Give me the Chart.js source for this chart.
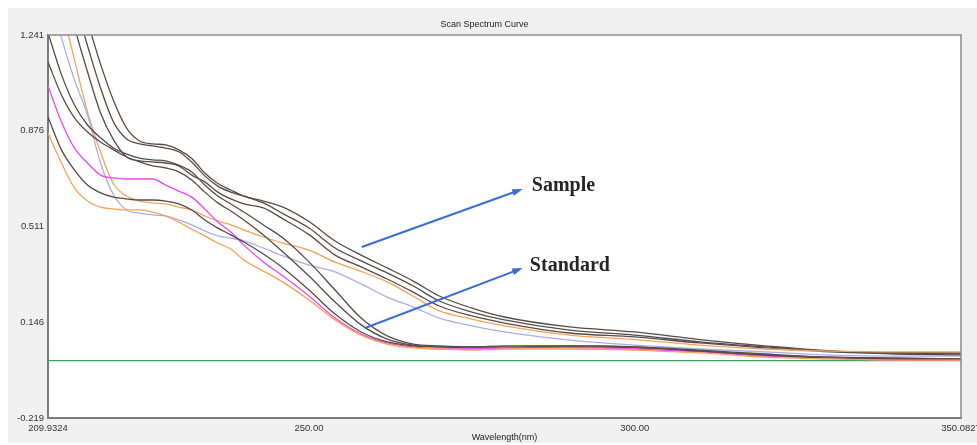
<!DOCTYPE html>
<html>
<head>
<meta charset="utf-8">
<title>Scan Spectrum Curve</title>
<script src="https://cdn.jsdelivr.net/npm/chart.js@4.4.1/dist/chart.umd.min.js"></script>
<style>
    html, body { margin: 0; padding: 0; background: #ffffff; }
    #wrap { width: 977px; height: 445px; }
</style>
</head>
<body>
<div id="wrap"><canvas id="spectrum" width="977" height="445"></canvas></div>
<script>
// ========================================
// Data
// ========================================
const wavelength = [209.9324, 212, 214, 216, 218, 220, 222, 224, 226, 228, 230, 232, 234, 236, 238, 240,
    243, 246, 250, 254, 258, 262, 266, 270, 275, 280, 290, 300, 310, 320, 330, 340, 350.0827];

// Sample scans (higher tail)
const sample1 = [1.76, 1.59, 1.43, 1.29, 1.13, 0.99, 0.886, 0.837, 0.826, 0.822, 0.803, 0.770, 0.715, 0.675, 0.650, 0.627,
    0.608, 0.585, 0.530, 0.456, 0.402, 0.353, 0.303, 0.246, 0.200, 0.166, 0.128, 0.109, 0.080, 0.056, 0.037, 0.029, 0.029];
const sample2 = [1.72, 1.55, 1.37, 1.20, 1.039, 0.909, 0.845, 0.826, 0.818, 0.810, 0.796, 0.757, 0.704, 0.665, 0.642, 0.627,
    0.601, 0.560, 0.505, 0.429, 0.380, 0.334, 0.284, 0.227, 0.185, 0.155, 0.116, 0.097, 0.071, 0.052, 0.036, 0.029, 0.025];
const sample3 = [1.64, 1.45, 1.27, 1.10, 0.944, 0.841, 0.776, 0.761, 0.757, 0.753, 0.742, 0.707, 0.681, 0.642, 0.616, 0.597,
    0.582, 0.540, 0.480, 0.402, 0.357, 0.311, 0.261, 0.208, 0.170, 0.143, 0.105, 0.090, 0.067, 0.048, 0.033, 0.025, 0.021];
const sampleOrange = [1.56, 1.35, 1.146, 0.947, 0.795, 0.673, 0.627, 0.608, 0.601, 0.597, 0.585, 0.574, 0.551, 0.532, 0.517, 0.498,
    0.471, 0.448, 0.421, 0.375, 0.340, 0.300, 0.245, 0.189, 0.158, 0.132, 0.097, 0.080, 0.059, 0.044, 0.036, 0.033, 0.033];
const sampleLavender = [1.41, 1.23, 1.069, 0.936, 0.753, 0.631, 0.574, 0.562, 0.555, 0.551, 0.536, 0.517, 0.494, 0.475, 0.467, 0.456,
    0.429, 0.399, 0.364, 0.338, 0.292, 0.242, 0.204, 0.162, 0.132, 0.109, 0.078, 0.059, 0.044, 0.033, 0.021, 0.017, 0.017];

// Standard scans (drop to ~0.05 past 265 nm)
const standard1 = [1.25, 1.09, 0.974, 0.898, 0.849, 0.810, 0.787, 0.772, 0.765, 0.761, 0.745, 0.719, 0.669, 0.627, 0.597, 0.566,
    0.517, 0.467, 0.376, 0.269, 0.162, 0.094, 0.063, 0.056, 0.052, 0.052, 0.056, 0.052, 0.040, 0.025, 0.013, 0.010, 0.006];
const standard2 = [1.138, 1.012, 0.925, 0.871, 0.833, 0.803, 0.776, 0.757, 0.742, 0.734, 0.719, 0.688, 0.642, 0.601, 0.570, 0.536,
    0.479, 0.414, 0.322, 0.223, 0.136, 0.082, 0.059, 0.052, 0.048, 0.048, 0.052, 0.048, 0.036, 0.021, 0.013, 0.006, 0.002];
const standardMagenta = [1.047, 0.909, 0.810, 0.753, 0.707, 0.696, 0.692, 0.692, 0.692, 0.669, 0.646, 0.623, 0.578, 0.528, 0.490, 0.440,
    0.376, 0.322, 0.246, 0.162, 0.101, 0.067, 0.052, 0.044, 0.044, 0.048, 0.048, 0.044, 0.033, 0.017, 0.010, 0.002, 0.002];
const standard3 = [0.928, 0.803, 0.726, 0.669, 0.639, 0.623, 0.616, 0.612, 0.612, 0.608, 0.597, 0.574, 0.536, 0.505, 0.479, 0.452,
    0.406, 0.353, 0.269, 0.177, 0.109, 0.071, 0.056, 0.052, 0.052, 0.056, 0.056, 0.052, 0.036, 0.021, 0.010, 0.006, 0.006];
const standardOrange = [0.867, 0.753, 0.658, 0.608, 0.585, 0.578, 0.574, 0.574, 0.566, 0.551, 0.528, 0.501, 0.475, 0.448, 0.425, 0.383,
    0.341, 0.299, 0.231, 0.155, 0.097, 0.063, 0.048, 0.044, 0.040, 0.044, 0.044, 0.040, 0.029, 0.013, 0.006, 0.002, 0.002];

// Blank / zero line
const baselineX = [209.9324, 350.0827];
const baselineY = [0, 0];

// Axis ticks
const xTicks = [209.9324, 250, 300, 350.0827];
const xTickLabels = ['209.9324', '250.00', '300.00', '350.0827'];
const yTicks = [-0.219, 0.146, 0.511, 0.876, 1.241];

// Annotations: arrow from (x1, y1) to (x2, y2), label at (tx, ty)
const noteLabels = ['Sample', 'Standard'];
const noteArrowFrom = [[258.1, 0.433], [258.6, 0.124]];
const noteArrowTo = [[282.8, 0.654], [282.8, 0.353]];
const noteTextAt = [[284.2, 0.665], [283.9, 0.362]];

// ========================================
// Helpers
// ========================================
const DARK = 'rgb(88, 74, 74)';
const ORANGE = '#f8a257';
const LAVENDER = '#a9aee3';
const MAGENTA = '#f843f0';

const toPoints = (xs, ys) => xs.map((x, i) => ({ x: x, y: ys[i] }));

const line = (values, color) => ({
    data: toPoints(wavelength, values),
    borderColor: color,
    borderWidth: 1.3,
    pointRadius: 0,
    fill: false,
    cubicInterpolationMode: 'monotone'
});

// Gray window frame + white plot area + top/right border
const framePlugin = {
    id: 'frame',
    beforeDraw(chart) {
        const { ctx, chartArea: a } = chart;
        ctx.save();
        ctx.fillStyle = '#ffffff';
        ctx.fillRect(0, 0, chart.width, chart.height);
        ctx.fillStyle = '#f0f0f0';
        ctx.fillRect(8, 8, chart.width - 8, chart.height - 10);
        ctx.fillStyle = '#ffffff';
        ctx.fillRect(a.left, a.top, a.right - a.left, a.bottom - a.top);
        ctx.restore();
    },
    afterDraw(chart) {
        const { ctx, chartArea: a } = chart;
        ctx.save();
        ctx.strokeStyle = '#8a8a8a';
        ctx.lineWidth = 1.5;
        ctx.beginPath();
        ctx.moveTo(a.left, a.top);
        ctx.lineTo(a.right, a.top);
        ctx.lineTo(a.right, a.bottom);
        ctx.stroke();
        ctx.restore();
    }
};

// Blue arrows with bold labels
const notePlugin = {
    id: 'notes',
    afterDatasetsDraw(chart) {
        const { ctx, scales: { x, y } } = chart;
        ctx.save();
        noteLabels.forEach((label, i) => {
            const x1 = x.getPixelForValue(noteArrowFrom[i][0]);
            const y1 = y.getPixelForValue(noteArrowFrom[i][1]);
            const x2 = x.getPixelForValue(noteArrowTo[i][0]);
            const y2 = y.getPixelForValue(noteArrowTo[i][1]);
            const ang = Math.atan2(y2 - y1, x2 - x1);
            const head = 11;

            ctx.strokeStyle = '#3a6cd6';
            ctx.fillStyle = '#3a6cd6';
            ctx.lineWidth = 2;
            ctx.beginPath();
            ctx.moveTo(x1, y1);
            ctx.lineTo(x2 - Math.cos(ang) * head * 0.8, y2 - Math.sin(ang) * head * 0.8);
            ctx.stroke();

            ctx.beginPath();
            ctx.moveTo(x2, y2);
            ctx.lineTo(x2 - head * Math.cos(ang - 0.32), y2 - head * Math.sin(ang - 0.32));
            ctx.lineTo(x2 - head * Math.cos(ang + 0.32), y2 - head * Math.sin(ang + 0.32));
            ctx.closePath();
            ctx.fill();

            ctx.fillStyle = '#262626';
            ctx.font = 'bold 20px "Liberation Serif", "Times New Roman", serif';
            ctx.textAlign = 'left';
            ctx.textBaseline = 'middle';
            ctx.fillText(label, x.getPixelForValue(noteTextAt[i][0]), y.getPixelForValue(noteTextAt[i][1]));
        });
        ctx.restore();
    }
};

// ========================================
// Chart
// ========================================
const ctx = document.getElementById('spectrum').getContext('2d');

new Chart(ctx, {
    type: 'line',
    data: {
        datasets: [
            line(standardOrange, ORANGE),
            line(standard3, DARK),
            line(standardMagenta, MAGENTA),
            line(standard2, DARK),
            line(standard1, DARK),
            line(sampleLavender, LAVENDER),
            line(sampleOrange, ORANGE),
            line(sample3, DARK),
            line(sample2, DARK),
            line(sample1, DARK),
            {
                data: toPoints(baselineX, baselineY),
                borderColor: '#3a9f6a',
                borderWidth: 1.3,
                pointRadius: 0,
                fill: false
            }
        ]
    },
    options: {
        responsive: false,
        animation: false,
        events: [],
        layout: { padding: { left: 8, right: 16, top: 0, bottom: 2 } },
        plugins: {
            legend: { display: false },
            tooltip: { enabled: false },
            title: {
                display: true,
                text: 'Scan Spectrum Curve',
                color: '#222222',
                font: { family: '"Liberation Sans", Arial, sans-serif', size: 9, weight: 'normal' },
                padding: { top: 19, bottom: 5.2 }
            }
        },
        scales: {
            x: {
                type: 'linear',
                min: 209.9324,
                max: 350.0827,
                grid: { display: false, drawTicks: false },
                border: { display: true, color: '#7a7a7a', width: 2 },
                afterBuildTicks: (scale) => { scale.ticks = xTicks.map(v => ({ value: v })); },
                afterFit: (scale) => {
                    scale.height = 25;
                    scale.paddingLeft = 0;
                    scale.paddingRight = 0;
                },
                ticks: {
                    autoSkip: false,
                    maxRotation: 0,
                    padding: 5,
                    color: '#333333',
                    font: { family: '"Liberation Sans", Arial, sans-serif', size: 9.5 },
                    callback: (value, index) => xTickLabels[index]
                },
                title: {
                    display: true,
                    text: 'Wavelength(nm)',
                    color: '#222222',
                    font: { family: '"Liberation Sans", Arial, sans-serif', size: 9 },
                    padding: { top: 0, bottom: 0 }
                }
            },
            y: {
                min: -0.219,
                max: 1.241,
                grid: { display: false, drawTicks: false },
                border: { display: true, color: '#7a7a7a', width: 2 },
                afterBuildTicks: (scale) => { scale.ticks = yTicks.map(v => ({ value: v })); },
                afterFit: (scale) => {
                    scale.width = 40;
                    scale.paddingTop = 0;
                    scale.paddingBottom = 0;
                },
                ticks: {
                    padding: 4,
                    color: '#333333',
                    font: { family: '"Liberation Sans", Arial, sans-serif', size: 9.5 },
                    callback: (value) => value.toFixed(3)
                }
            }
        }
    },
    plugins: [framePlugin, notePlugin]
});
</script>
</body>
</html>
